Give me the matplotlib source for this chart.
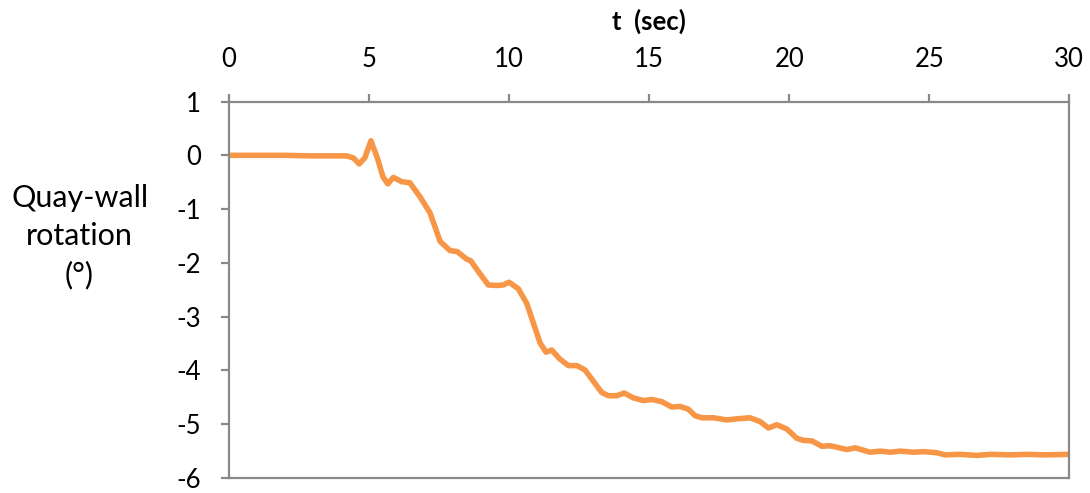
import matplotlib
matplotlib.use("Agg")
import matplotlib.pyplot as plt

t_sec = [0, 1, 2, 2.9, 3.5, 4.2, 4.45, 4.65, 4.85, 5.07, 5.3, 5.5, 5.67, 5.87, 6.17, 6.46,
         6.82, 7.18, 7.54, 7.89, 8.15, 8.49, 8.63, 8.96, 9.26, 9.56, 9.8, 10.0, 10.33,
         10.63, 10.87, 11.11, 11.32, 11.52, 11.82, 12.12, 12.42, 12.71, 13.01, 13.31,
         13.55, 13.85, 14.11, 14.44, 14.8, 15.1, 15.45, 15.81, 16.11, 16.4, 16.64,
         16.88, 17.3, 17.77, 18.13, 18.6, 18.96, 19.26, 19.56, 19.92, 20.27, 20.51,
         20.81, 21.17, 21.46, 22.06, 22.36, 22.89, 23.25, 23.61, 23.96, 24.44, 24.8,
         25.27, 25.57, 26.11, 26.7, 27.18, 27.9, 28.49, 29.08, 30.0]
rotation_deg = [0.0, 0.0, 0.0, -0.01, -0.01, -0.01, -0.05, -0.16, -0.05, 0.27, -0.05, -0.4,
                -0.53, -0.41, -0.49, -0.51, -0.77, -1.07, -1.6, -1.77, -1.79, -1.93, -1.96,
                -2.2, -2.41, -2.42, -2.41, -2.36, -2.48, -2.75, -3.12, -3.49, -3.66, -3.62,
                -3.79, -3.91, -3.91, -3.99, -4.2, -4.41, -4.47, -4.47, -4.42, -4.51, -4.56,
                -4.54, -4.58, -4.68, -4.67, -4.72, -4.84, -4.88, -4.88, -4.92, -4.9, -4.88,
                -4.95, -5.07, -5.01, -5.09, -5.26, -5.3, -5.31, -5.41, -5.4, -5.47, -5.44,
                -5.52, -5.5, -5.52, -5.5, -5.52, -5.51, -5.53, -5.57, -5.56, -5.58, -5.56,
                -5.57, -5.56, -5.57, -5.56]
x_ticks = [0, 5, 10, 15, 20, 25, 30]
y_ticks = [1, 0, -1, -2, -3, -4, -5, -6]

plt.rcParams['font.family'] = ['Lato', 'DejaVu Sans']

fig = plt.figure(figsize=(10.9, 4.93), dpi=100)
ax = fig.add_axes([0.210, 0.0304, 0.771, 0.7636])
ax.plot(t_sec, rotation_deg, color='#F79646', lw=4, solid_joinstyle='round',
        solid_capstyle='round')
ax.set_xlim(0, 30)
ax.set_ylim(-6, 1)
ax.set_xticks(x_ticks)
ax.set_yticks(y_ticks)
ax.set_yticklabels([str(v) for v in y_ticks])
ax.xaxis.tick_top()
ax.xaxis.set_label_position('top')
for s in ax.spines.values():
    s.set_color('#898989')
    s.set_linewidth(1.6)
ax.tick_params(axis='both', direction='out', length=6, width=1.6, color='#898989',
               labelsize=18.5, labelcolor='black')
ax.tick_params(axis='x', pad=15)
ax.tick_params(axis='y', pad=14)
ax.set_xlabel('t  (sec)', fontsize=18.5, fontweight='bold', labelpad=13)
fig.text(0.073, 0.52, 'Quay-wall\nrotation\n(°)', ha='center', va='center',
         fontsize=22, linespacing=1.45)
fig.savefig('out.png', dpi=100)
